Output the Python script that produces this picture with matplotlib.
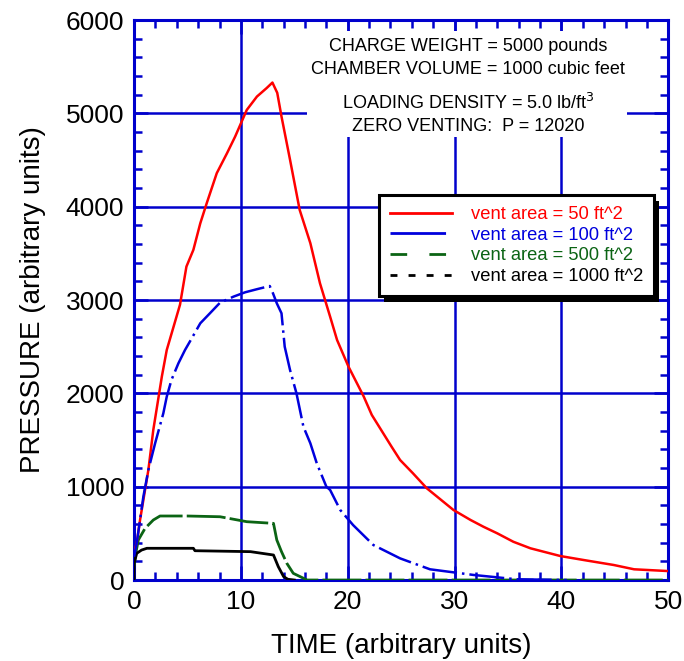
import matplotlib
matplotlib.use("Agg")
import matplotlib.pyplot as plt
from matplotlib.lines import Line2D
from matplotlib.patches import Rectangle
from matplotlib import patheffects
from matplotlib.ticker import MultipleLocator

plt.rcParams["font.family"] = ["Liberation Sans", "DejaVu Sans"]

# vent area = 50 ft^2
t50 = [0, 0.25, 0.56, 0.87, 1.34, 1.8, 2.3, 2.6, 3.06, 3.7, 4.3, 4.9, 5.55, 6.2, 6.8,
       7.74, 8.7, 9.46, 10.55, 11.5, 12.4, 12.95, 13.4, 13.8, 14.6, 15.5, 16.5, 17.4,
       18.35, 19.0, 20.07, 21.5, 22.25, 24.1, 24.9, 26.1, 27.4, 29.9, 31.5, 32.7, 34.0,
       35.5, 37.1, 39.9, 42.1, 44.9, 46.8, 50]
p50 = [300, 396, 643, 857, 1180, 1608, 1965, 2180, 2465, 2715, 2950, 3358, 3537, 3823, 4037,
       4359, 4573, 4751, 5037, 5180, 5270, 5330, 5220, 4966, 4502, 3966, 3609, 3180,
       2822, 2572, 2286, 1965, 1769, 1429, 1286, 1144, 983, 750, 643, 571, 500,
       410, 340, 257, 214, 161, 115, 96]

# vent area = 100 ft^2
t100 = [0, 0.25, 0.87, 1.34, 1.97, 2.74, 3.06, 3.5, 4.15, 4.77, 5.4, 6.2, 7.1, 8.05, 9.3,
        10.4, 11.5, 12.7, 13.0, 13.36, 13.8, 14.1, 14.6, 15.2, 15.85, 16.5, 17.1, 18.0,
        18.35, 19.3, 20.5, 22.4, 24.9, 27.7, 31.8, 35.8, 40.5]
p100 = [250, 396, 893, 1180, 1465, 1787, 1965, 2144, 2322, 2465, 2590, 2751, 2858, 2972, 3036,
        3083, 3116, 3150, 3073, 2965, 2858, 2500, 2250, 2001, 1643, 1465, 1251, 1000,
        965, 750, 589, 375, 232, 115, 54, 8, 0]

# vent area = 500 ft^2
t500 = [0, 0.19, 0.4, 1.03, 1.8, 2.43, 5.0, 8.05, 10.55, 13.05, 13.36, 13.8, 14.3, 14.9, 16.2, 50]
p500 = [150, 303, 429, 554, 643, 686, 686, 678, 625, 607, 429, 304, 179, 72, 0, 0]

# vent area = 1000 ft^2
t1000 = [0, 0, 0.25, 0.7, 1.2, 5.55, 5.7, 10.9, 13.05, 13.5, 14.0, 14.4, 15.0]
p1000 = [0, 179, 286, 321, 340, 340, 314, 304, 268, 143, 36, 8, 0]

labels = ["vent area = 50 ft^2", "vent area = 100 ft^2",
          "vent area = 500 ft^2", "vent area = 1000 ft^2"]
colors = ["#ff0000", "#0000dd", "#0b6414", "#000000"]

blue = "#0000cc"

fig = plt.figure(figsize=(6.84, 6.61), dpi=100)
ax = fig.add_axes([0.196, 0.1225, 0.781, 0.8472])

ax.plot(t50, p50, color=colors[0], lw=1.8, zorder=5)
ax.plot(t100, p100, color=colors[1], lw=1.8, dashes=(14, 2, 1, 2), zorder=5)
ax.plot(t500, p500, color=colors[2], lw=2.0, dashes=(14, 1.5), zorder=4)
ax.plot(t1000, p1000, color=colors[3], lw=2.0, zorder=4)

ax.set_xlim(0, 50)
ax.set_ylim(0, 6000)
ax.xaxis.set_major_locator(MultipleLocator(10))
ax.xaxis.set_minor_locator(MultipleLocator(2))
ax.yaxis.set_major_locator(MultipleLocator(1000))
ax.yaxis.set_minor_locator(MultipleLocator(200))
ax.grid(True, which="major", color=blue, lw=1.8, zorder=1)
ax.set_axisbelow(True)
for s in ax.spines.values():
    s.set_color(blue)
    s.set_linewidth(2.2)
ax.tick_params(which="both", direction="in", top=True, right=True, color=blue,
               labelsize=19, pad=7)
ax.tick_params(which="major", length=10, width=1.8)
ax.tick_params(which="minor", length=6, width=1.8)

ax.set_xlabel("TIME (arbitrary units)", fontsize=20, labelpad=14)
ax.set_ylabel("PRESSURE (arbitrary units)", fontsize=20, labelpad=14)

# white area behind the notes
ax.add_patch(Rectangle((0.323, 0.791), 0.6, 0.19, transform=ax.transAxes,
                       facecolor="white", edgecolor="none", zorder=2))
ax.text(0.625, 0.953, "CHARGE WEIGHT = 5000 pounds", transform=ax.transAxes,
        ha="center", va="center", fontsize=13, zorder=3)
ax.text(0.625, 0.912, "CHAMBER VOLUME = 1000 cubic feet", transform=ax.transAxes,
        ha="center", va="center", fontsize=13, zorder=3)
ax.text(0.625, 0.852, "LOADING DENSITY = 5.0 lb/ft$^3$", transform=ax.transAxes,
        ha="center", va="center", fontsize=13, zorder=3)
ax.text(0.625, 0.809, "ZERO VENTING:  P = 12020", transform=ax.transAxes,
        ha="center", va="center", fontsize=13, zorder=3)

handles = [
    Line2D([], [], color=colors[0], lw=2),
    Line2D([], [], color=colors[1], lw=2, dashes=(20, 4, 1, 4)),
    Line2D([], [], color=colors[2], lw=2, dashes=(6, 8)),
    Line2D([], [], color=colors[3], lw=2, dashes=(2.5, 4)),
]
leg = ax.legend(handles, labels, loc="upper right", bbox_to_anchor=(0.973, 0.6875),
                fontsize=13.2, handlelength=3.4, handletextpad=1.0, labelspacing=0.2,
                borderpad=0.6, borderaxespad=0, fancybox=False, framealpha=1,
                edgecolor="black")
leg.get_frame().set_linewidth(2.2)
leg.get_frame().set_path_effects([
    patheffects.SimplePatchShadow(offset=(4, -4), shadow_rgbFace="black", alpha=1),
    patheffects.Normal()])
leg.set_zorder(10)
for txt, c in zip(leg.get_texts(), colors):
    txt.set_color(c)

fig.savefig("out.png", dpi=100)
